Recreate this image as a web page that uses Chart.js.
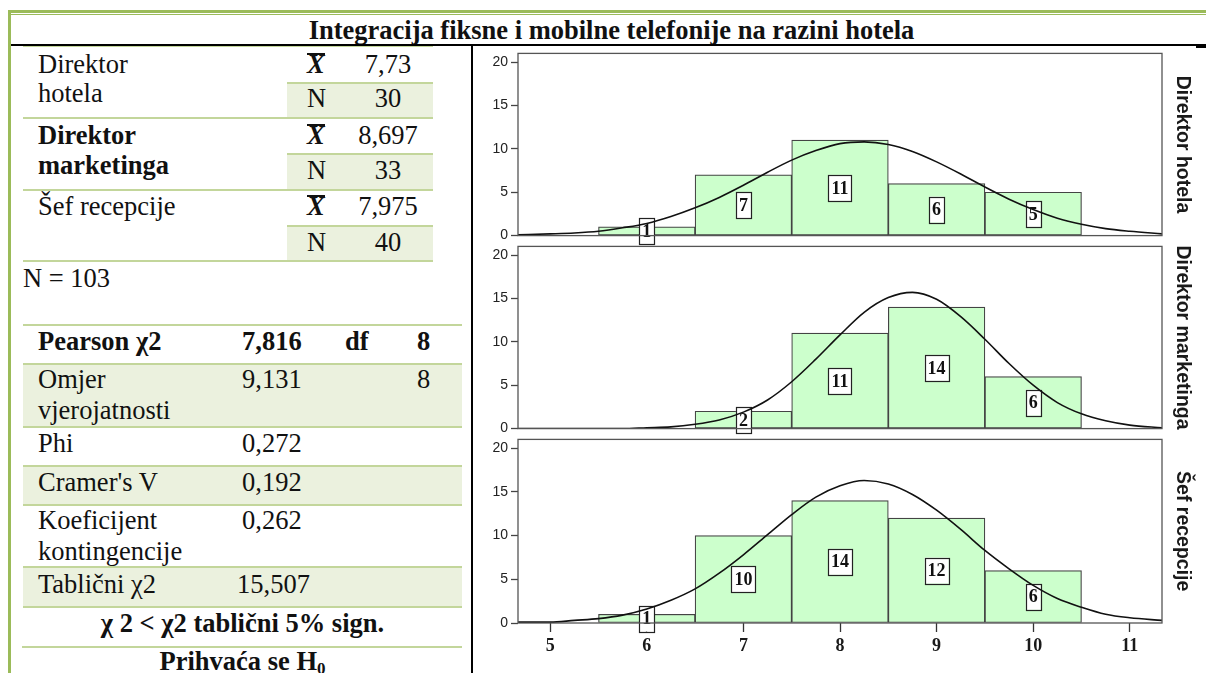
<!DOCTYPE html>
<html>
<head>
<meta charset="utf-8">
<script src="https://cdn.jsdelivr.net/npm/chart.js@4"></script>
<style>
  body { margin: 0; width: 1206px; height: 673px; overflow: hidden; background: #fff; position: relative; }
  .t { position: absolute; font-family: 'Liberation Serif', 'Times New Roman', serif; font-size: 26.5px; line-height: 30px; color: #111; white-space: nowrap; }
  .b { font-weight: bold; }
  .c { text-align: center; }
  .hl { position: absolute; height: 2px; background: #c3d69b; }
  .sh { position: absolute; background: #ebf1de; }
  .xb { display: inline-block; border-top: 2px solid #111; line-height: 19px; font-style: italic; font-weight: bold; }
  canvas { position: absolute; left: 472px; }
</style>
</head>
<body>
<!-- outer frame -->
<div style="position:absolute;left:8px;top:10px;width:1198px;height:3px;background:#9bbb59"></div>
<div style="position:absolute;left:8px;top:14px;width:1198px;height:1px;background:#9bbb59"></div>
<div style="position:absolute;left:8px;top:10px;width:3px;height:663px;background:#9bbb59"></div>
<div class="t b c" style="left:11px;width:1201px;top:15px">Integracija fiksne i mobilne telefonije na razini hotela</div>
<div style="position:absolute;left:11px;top:44px;width:1195px;height:2px;background:#000"></div>
<div style="position:absolute;left:1196px;top:44px;width:10px;height:4px;background:#000"></div>
<div style="position:absolute;left:471px;top:44px;width:2px;height:629px;background:#000"></div>

<!-- upper table -->
<div class="sh" style="left:287px;top:83px;width:146px;height:35px"></div>
<div class="sh" style="left:287px;top:154px;width:146px;height:36px"></div>
<div class="sh" style="left:287px;top:226px;width:146px;height:35px"></div>
<div class="hl" style="left:23px;top:46px;width:410px;height:1px"></div>
<div class="hl" style="left:287px;top:82px;width:146px"></div>
<div class="hl" style="left:23px;top:117px;width:410px"></div>
<div class="hl" style="left:287px;top:153px;width:146px"></div>
<div class="hl" style="left:23px;top:189px;width:410px"></div>
<div class="hl" style="left:287px;top:225px;width:146px"></div>
<div class="hl" style="left:23px;top:260px;width:410px"></div>

<div class="t" style="left:38px;top:49px">Direktor</div>
<div class="t" style="left:38px;top:78px">hotela</div>
<div class="t" style="left:307px;top:49px"><span class="xb">X</span></div>
<div class="t c" style="left:343px;width:90px;top:49px">7,73</div>
<div class="t" style="left:307px;top:83px">N</div>
<div class="t c" style="left:343px;width:90px;top:83px">30</div>

<div class="t b" style="left:38px;top:120px">Direktor</div>
<div class="t b" style="left:38px;top:150px">marketinga</div>
<div class="t" style="left:307px;top:120px"><span class="xb">X</span></div>
<div class="t c" style="left:343px;width:90px;top:120px">8,697</div>
<div class="t" style="left:307px;top:155px">N</div>
<div class="t c" style="left:343px;width:90px;top:155px">33</div>

<div class="t" style="left:38px;top:191px">Šef recepcije</div>
<div class="t" style="left:307px;top:191px"><span class="xb">X</span></div>
<div class="t c" style="left:343px;width:90px;top:191px">7,975</div>
<div class="t" style="left:307px;top:227px">N</div>
<div class="t c" style="left:343px;width:90px;top:227px">40</div>

<div class="t" style="left:23px;top:263px">N = 103</div>

<!-- lower table -->
<div class="sh" style="left:23px;top:364px;width:439px;height:63px"></div>
<div class="sh" style="left:23px;top:466px;width:439px;height:39px"></div>
<div class="sh" style="left:23px;top:567px;width:439px;height:40px"></div>
<div class="hl" style="left:23px;top:324px;width:439px"></div>
<div class="hl" style="left:23px;top:363px;width:439px"></div>
<div class="hl" style="left:23px;top:426px;width:439px"></div>
<div class="hl" style="left:23px;top:465px;width:439px"></div>
<div class="hl" style="left:23px;top:504px;width:439px"></div>
<div class="hl" style="left:23px;top:566px;width:439px"></div>
<div class="hl" style="left:23px;top:606px;width:439px"></div>
<div class="hl" style="left:22px;top:646px;width:440px"></div>

<div class="t b" style="left:38px;top:326px">Pearson χ2</div>
<div class="t b" style="left:242px;top:326px">7,816</div>
<div class="t b" style="left:345px;top:326px">df</div>
<div class="t b" style="left:417px;top:326px">8</div>

<div class="t" style="left:38px;top:364px">Omjer</div>
<div class="t" style="left:38px;top:395px">vjerojatnosti</div>
<div class="t" style="left:242px;top:364px">9,131</div>
<div class="t" style="left:417px;top:364px">8</div>

<div class="t" style="left:38px;top:428px">Phi</div>
<div class="t" style="left:242px;top:428px">0,272</div>

<div class="t" style="left:38px;top:467px">Cramer's V</div>
<div class="t" style="left:242px;top:467px">0,192</div>

<div class="t" style="left:38px;top:505px">Koeficijent</div>
<div class="t" style="left:38px;top:536px">kontingencije</div>
<div class="t" style="left:242px;top:505px">0,262</div>

<div class="t" style="left:38px;top:569px">Tablični χ2</div>
<div class="t" style="left:237px;top:569px">15,507</div>

<div class="t b c" style="left:23px;width:439px;top:608px">χ 2 &lt; χ2 tablični 5% sign.</div>
<div class="t b c" style="left:23px;width:439px;top:646px">Prihvaća se H<span style="font-size:17px;vertical-align:-4px">0</span></div>

<canvas id="c1" width="734" height="205" style="top:42px"></canvas>
<canvas id="c2" width="734" height="205" style="top:235px"></canvas>
<canvas id="c3" width="734" height="245" style="top:428px"></canvas>

<script>
// histogram bins (centres) and counts per group
const bins = [6, 7, 8, 9, 10];
const hotelCounts = [1, 7, 11, 6, 5];
const marketingCounts = [null, 2, 11, 14, 6];
const receptionCounts = [1, 10, 14, 12, 6];

// normal curves
const curveX = [4.667, 5, 5.25, 5.5, 5.75, 6, 6.25, 6.5, 6.75, 7, 7.25, 7.5, 7.75, 8, 8.25, 8.5, 8.75, 9, 9.25, 9.5, 9.75, 10, 10.25, 10.5, 10.75, 11, 11.333];
const hotelCurve = [0.1, 0.2, 0.3, 0.5, 0.9, 1.4, 2.2, 3.2, 4.4, 5.8, 7.3, 8.7, 9.8, 10.6, 10.8, 10.5, 9.7, 8.5, 7.1, 5.6, 4.2, 3.0, 2.0, 1.3, 0.8, 0.5, 0.2];
const marketingCurve = [0, 0, 0, 0, 0, 0.1, 0.2, 0.5, 1.0, 1.9, 3.3, 5.4, 8.0, 10.8, 13.4, 15.1, 15.7, 14.9, 12.9, 10.3, 7.5, 5.0, 3.0, 1.7, 0.9, 0.4, 0.1];
const receptionCurve = [0.1, 0.1, 0.3, 0.5, 0.9, 1.6, 2.6, 3.9, 5.7, 7.8, 10.1, 12.4, 14.4, 15.7, 16.3, 15.9, 14.7, 12.9, 10.7, 8.3, 6.2, 4.3, 2.8, 1.8, 1.0, 0.6, 0.3];

const panelTitles = ['Direktor hotela', 'Direktor marketinga', 'Šef recepcije'];
const xTicks = [5, 6, 7, 8, 9, 10, 11];
const yTicks = [0, 5, 10, 15, 20];

const panelPlugin = {
  id: 'panel',
  afterDatasetDraw(chart, args) {
    if (args.meta.type !== 'bar') return;
    const ctx = chart.ctx;
    const y = chart.scales.y;
    ctx.save();
    ctx.font = 'bold 18px "Liberation Serif", "Times New Roman", serif';
    ctx.textAlign = 'center';
    ctx.textBaseline = 'middle';
    args.meta.data.forEach((bar, i) => {
      const v = chart.data.datasets[args.index].data[i].y;
      if (v == null) return;
      const text = String(v);
      const w = Math.max(15, ctx.measureText(text).width + 6);
      const cy = y.getPixelForValue(v / 2);
      const cx = bar.x;
      ctx.fillStyle = '#fff';
      ctx.fillRect(cx - w / 2, cy - 13, w, 26);
      ctx.strokeStyle = '#222';
      ctx.lineWidth = 1.2;
      ctx.strokeRect(Math.round(cx - w / 2) + 0.5, Math.round(cy - 13) + 0.5, Math.round(w), 26);
      ctx.fillStyle = '#111';
      ctx.fillText(text, cx, cy + 1);
    });
    ctx.restore();
  },
  afterDraw(chart, args, opts) {
    const { ctx, chartArea: a } = chart;
    ctx.save();
    ctx.strokeStyle = '#555';
    ctx.lineWidth = 1.3;
    ctx.strokeRect(a.left, a.top, a.right - a.left, a.bottom - a.top);
    ctx.translate(a.right + 20, (a.top + a.bottom) / 2);
    ctx.rotate(Math.PI / 2);
    ctx.font = 'bold 19.5px "Liberation Sans", Arial, sans-serif';
    ctx.fillStyle = '#1a1a1a';
    ctx.textAlign = 'center';
    ctx.textBaseline = 'middle';
    ctx.fillText(opts.label, 0, 0);
    ctx.restore();
  }
};

function makePanel(id, counts, curve, label, showX) {
  return new Chart(document.getElementById(id), {
    type: 'bar',
    data: {
      datasets: [
        {
          type: 'bar',
          data: bins.map((b, i) => ({ x: b, y: counts[i] })),
          backgroundColor: '#ccffcc',
          borderColor: '#444',
          borderWidth: 1.2,
          borderSkipped: false,
          barPercentage: 1,
          categoryPercentage: 1,
          order: 2
        },
        {
          type: 'line',
          data: curveX.map((x, i) => ({ x: x, y: curve[i] })),
          borderColor: '#111',
          borderWidth: 1.6,
          pointRadius: 0,
          fill: false,
          cubicInterpolationMode: 'monotone',
          order: 1
        }
      ]
    },
    options: {
      responsive: false,
      animation: false,
      events: [],
      layout: { padding: { top: 10, bottom: 10, left: 0, right: 44 } },
      plugins: { legend: { display: false }, tooltip: { enabled: false }, panel: { label: label } },
      scales: {
        x: {
          type: 'linear',
          display: showX,
          offset: false,
          min: 4.6667,
          max: 11.3333,
          afterFit: s => { s.height = showX ? 40 : 0; },
          afterBuildTicks: s => { s.ticks = xTicks.map(v => ({ value: v })); },
          grid: { drawOnChartArea: false, offset: false, tickLength: 9, tickColor: '#333', tickWidth: 1.3 },
          border: { display: false },
          ticks: { padding: 4, color: '#1a1a1a', font: { family: '"Liberation Serif", "Times New Roman", serif', size: 18, weight: 'bold' } }
        },
        y: {
          min: 0,
          max: 21,
          afterFit: s => { s.width = 46; },
          afterBuildTicks: s => { s.ticks = yTicks.map(v => ({ value: v })); },
          grid: { drawOnChartArea: false, tickLength: 7, tickColor: '#444', tickWidth: 1.3 },
          border: { display: false },
          ticks: { padding: 3, color: '#222', font: { family: '"Liberation Sans", Arial, sans-serif', size: 14 } }
        }
      }
    },
    plugins: [panelPlugin]
  });
}

makePanel('c1', hotelCounts, hotelCurve, panelTitles[0], false);
makePanel('c2', marketingCounts, marketingCurve, panelTitles[1], false);
makePanel('c3', receptionCounts, receptionCurve, panelTitles[2], true);
</script>
</body>
</html>
